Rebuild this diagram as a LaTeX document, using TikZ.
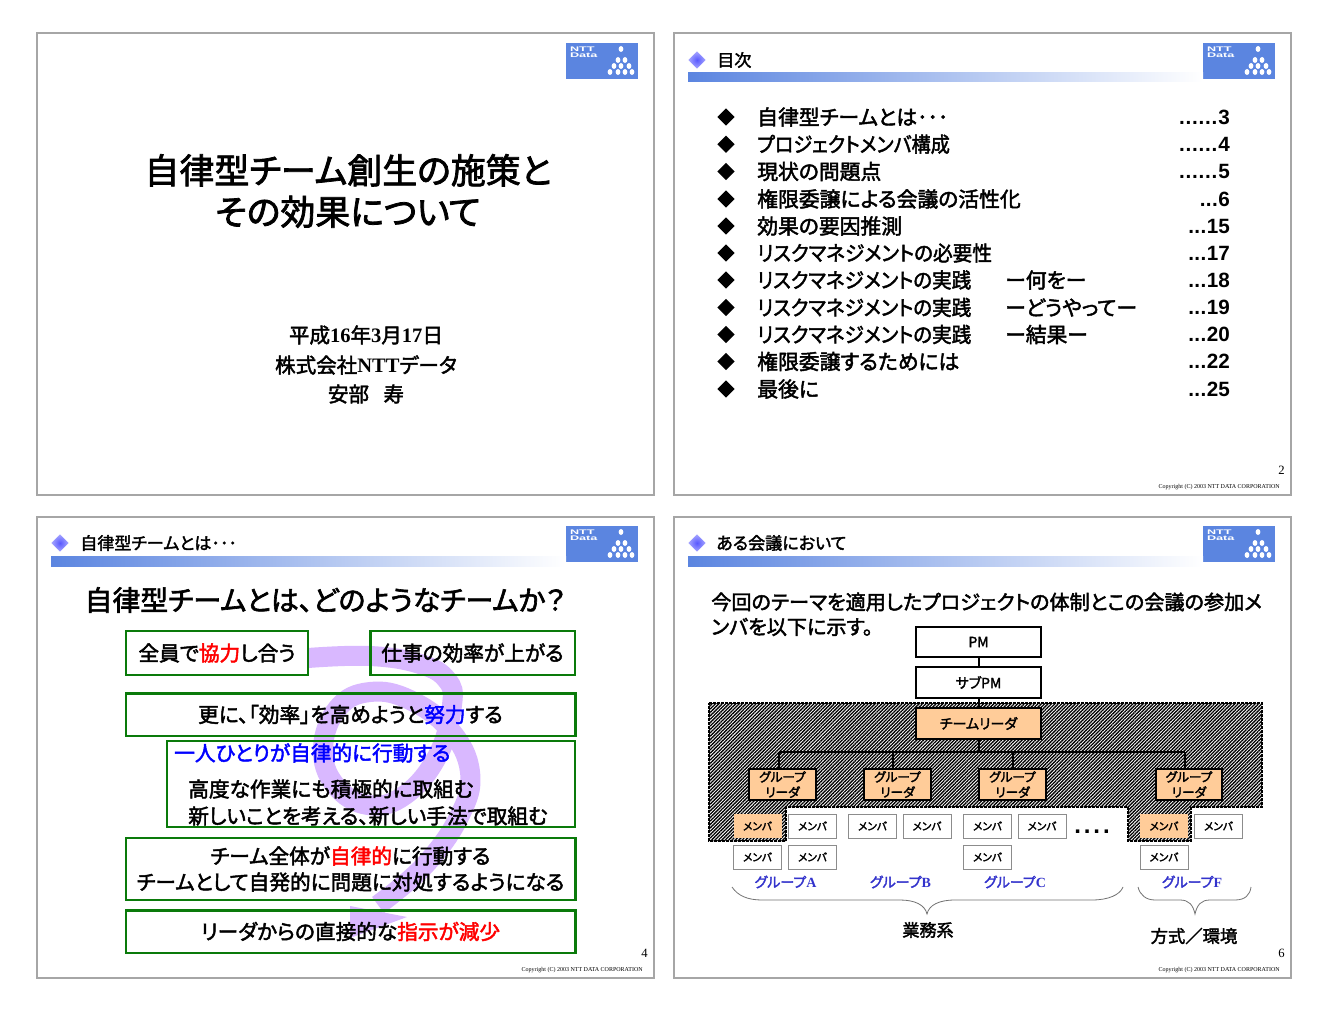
\documentclass[tikz,border=0pt]{standalone}
\usepackage{fontspec}
\setmainfont[RawFeature=+palt,FakeBold=2.2,BoldFont={Noto Sans CJK JP}]{Noto Sans CJK JP}
\newfontfamily\latf{Liberation Serif}
\newfontfamily\arif{Liberation Sans}
\usetikzlibrary{positioning,shapes.geometric,patterns.meta}
\definecolor{logoblue}{HTML}{5B85E0}
\definecolor{ribbon}{HTML}{D9B8FF}
\definecolor{boxgreen}{HTML}{0A7A0A}
\definecolor{leadorange}{HTML}{FFCC99}
\definecolor{grplabel}{HTML}{3333CC}
\newcommand{\fs}[1]{\fontsize{#1}{#1}\selectfont}
\newcommand{\rd}[1]{\textcolor{red}{#1}}
\newcommand{\bl}[1]{\textcolor{blue}{#1}}
\newcommand{\dlong}{.\kern.6pt.\kern.6pt.\kern.6pt.\kern.6pt.\kern.6pt.\kern.6pt}
\newcommand{\dshort}{.\kern.3pt.\kern.3pt.\kern.3pt}
\tikzset{
  slide/.style={draw=black!35,line width=1.1pt},
  headmark/.style={diamond,shade,inner color=blue!65,outer color=blue!35,minimum size=13pt,inner sep=0pt},
  headtext/.style={anchor=west,inner sep=0pt,font=\bfseries\fs{12.8}},
  tocmark/.style={diamond,fill=black,minimum size=13pt,inner sep=0pt},
  toctext/.style={anchor=west,inner sep=0pt,font=\bfseries\fs{15.6}},
  tocpage/.style={anchor=east,inner sep=0pt,font=\arif\bfseries\fs{15.5}},
  pagenum/.style={anchor=east,inner sep=0pt,font=\latf\fs{9.5}},
  copyrt/.style={anchor=east,inner sep=0pt,font=\latf\fs{4.5}},
  grbox/.style={draw=boxgreen,line width=2.2pt},
  grtext/.style={inner sep=0pt,font=\bfseries\fs{15.5}},
  orgbox/.style={draw,line width=1.5pt,minimum width=94pt,minimum height=23pt,inner sep=0pt,font=\bfseries\fs{10.5}},
  glbox/.style={draw,fill=leadorange,line width=1.5pt,minimum width=50pt,minimum height=23pt,inner sep=0pt,align=center,font=\bfseries\fontsize{9.5}{11.5}\selectfont},
  member/.style={draw=black!45,fill=white,line width=.7pt,minimum width=36pt,minimum height=18pt,inner sep=0pt,font=\bfseries\fs{8}},
  grplbl/.style={inner sep=0pt,text=grplabel,font=\bfseries\fs{10.5}},
  brace/.style={draw=black!55,line width=.6pt},
  conn/.style={line width=1.5pt},
  logo/.pic={
    \fill[logoblue] (0,0) rectangle (72,36);
    \node[white,inner sep=0pt,anchor=north west,font=\arif\bfseries\fontsize{5}{4.4}\selectfont,xscale=1.9,align=left] (-name) at (3.5,3.5) {NTT\\Data};
    \foreach \px/\py in {55/6,52/17,59/17,48/23,55/23,63/23,44/29,52/29,59/29,66/29}
      \fill[white] (\px,\py) ellipse (2.4 and 3);
  }
}
\begin{document}
\begin{tikzpicture}[x=.75pt,y=-.75pt]
\useasboundingbox (0,0) rectangle (1328,1012);
\fill[white] (0,0) rectangle (1328,1012);
% slide frames
\draw[slide] (37,33) rectangle (654,495);
\draw[slide] (674,33) rectangle (1291,495);
\draw[slide] (37,517) rectangle (654,978);
\draw[slide] (674,517) rectangle (1291,978);
\pic at (566,43) {logo};
\pic at (1203,43) {logo};
\pic at (566,526) {logo};
\pic at (1203,526) {logo};
% header bars
\shade[left color=logoblue,right color=white] (688,73) rectangle (1203,82);
\shade[left color=logoblue,right color=white] (51,556) rectangle (566,566);
\shade[left color=logoblue,right color=white] (688,556) rectangle (1203,566);
\node[headmark] (mark2) at (697,60) {};
\node[headmark] (mark3) at (60,543) {};
\node[headmark] (mark4) at (697,543) {};
\node[headtext] (head2) at (717,60) {目次};
\node[headtext] (head3) at (80,543) {自律型チームとは･･･};
\node[headtext] (head4) at (716,543) {ある会議において};
% slide 1
\node[align=center,inner sep=0pt,font=\bfseries\fontsize{26.2}{31}\selectfont] (title) at (348,191) {自律型チーム創生の施策と\\その効果について};
\node[inner sep=0pt,font=\bfseries\fs{15.4}] (date) at (366,335) {平成{\latf 16}年{\latf 3}月{\latf 17}日};
\node[inner sep=0pt,font=\bfseries\fs{15.4}] (company) at (366,365) {株式会社{\latf NTT}データ};
\node[inner sep=0pt,font=\bfseries\fs{15.4}] (person) at (366,394) {安部\hspace{.7em}寿};
% slide 2
\foreach \yy/\txt/\pg/\sx [count=\i] in {
  117/自律型チームとは･･･/\dlong 3/1,
  144.3/プロジェクトメンバ構成/\dlong 4/.92,
  171.5/現状の問題点/\dlong 5/1,
  199/権限委譲による会議の活性化/\dshort 6/1,
  226/効果の要因推測/\dshort 15/1,
  253/リスクマネジメントの必要性/\dshort 17/.945,
  280/リスクマネジメントの実践/\dshort 18/.94,
  307.5/リスクマネジメントの実践/\dshort 19/.94,
  334.5/リスクマネジメントの実践/\dshort 20/.94,
  361.5/権限委譲するためには/\dshort 22/1,
  389/最後に/\dshort 25/1}{
  \node[tocmark] (mark\i) at (726,\yy) {};
  \node[toctext,xscale=\sx] (item\i) at (757,\yy) {\txt};
  \node[tocpage] (page\i) at (1230,\yy) {\pg};
}
\node[toctext] (sub7) at (1005,280) {ー何をー};
\node[toctext] (sub8) at (1005,307.5) {ーどうやってー};
\node[toctext] (sub9) at (1005,334.5) {ー結果ー};
\node[pagenum] (num2) at (1285,470) {2};
\node[copyrt] (copy2) at (1280,487) {Copyright (C) 2003 NTT DATA CORPORATION};
% slide 3
\node[inner sep=0pt,font=\fs{20.9}] (q) at (325,600) {自律型チームとは、どのようなチームか？};
\draw[ribbon,line width=15pt] plot[smooth,tension=.7] coordinates {(308,658) (370,656) (420,664) (447,680) (452,705) (438,755) (405,795) (368,805) (335,785) (323,748) (338,708) (370,692) (410,700) (450,730) (470,772) (460,815) (425,865) (378,905)};
\fill[ribbon] (350,906) -- (407,917) -- (350,938) -- cycle;
\node[grbox,minimum width=136.5pt,minimum height=33pt,inner sep=0pt] (b1) at (217,653) {};
\node[grbox,minimum width=153.7pt,minimum height=33pt,inner sep=0pt] (b2) at (472.5,653) {};
\node[grbox,minimum width=336.8pt,minimum height=32.2pt,inner sep=0pt] (b3) at (350.5,714.5) {};
\node[grbox,minimum width=306pt,minimum height=64.5pt,inner sep=0pt] (b4) at (371,784) {};
\node[grbox,minimum width=336.8pt,minimum height=46.5pt,inner sep=0pt] (b5) at (350.5,869) {};
\node[grbox,minimum width=336.8pt,minimum height=32.2pt,inner sep=0pt] (b6) at (350.5,931.5) {};
\node[grtext] (t1) at (b1) {全員で\rd{協力}し合う};
\node[grtext] (t2) at (b2) {仕事の効率が上がる};
\node[grtext] (t3) at (b3) {更に、「効率」を高めようと\bl{努力}する};
\node[grtext,anchor=west] (t4a) at (174,753) {\bl{一人ひとりが自律的に行動する}};
\node[grtext,anchor=west] (t4b) at (188,789) {高度な作業にも積極的に取組む};
\node[grtext,anchor=west] (t4c) at (188,816) {新しいことを考える、新しい手法で取組む};
\node[grtext] (t5a) at (350.5,856) {チーム全体が\rd{自律的}に行動する};
\node[grtext] (t5b) at (350.5,882) {チームとして自発的に問題に対処するようになる};
\node[grtext] (t6) at (b6) {リーダからの直接的な\rd{指示が減少}};
\node[pagenum] (num3) at (648,953) {4};
\node[copyrt] (copy3) at (643,970) {Copyright (C) 2003 NTT DATA CORPORATION};
% slide 4
\node[anchor=west,inner sep=0pt,font=\bfseries\fs{15.1}] (intro1) at (711,602) {今回のテーマを適用したプロジェクトの体制とこの会議の参加メ};
\node[anchor=west,inner sep=0pt,font=\bfseries\fs{15.1}] (intro2) at (711,627) {ンバを以下に示す。};
\path[pattern={Lines[angle=45,distance=1.8pt,line width=1pt]},draw,line width=2.2pt,dash pattern=on 2pt off 1pt]
  (709,703) -- (1262,703) -- (1262,807) -- (1191,807) -- (1191,841) -- (1128,841) -- (1128,807)
  -- (786,807) -- (786,841) -- (709,841) -- cycle;
\node[orgbox] (pm) at (978.5,642) {PM};
\node[orgbox] (subpm) at (978.5,682.5) {サブPM};
\node[orgbox,fill=leadorange] (tl) at (978.5,723.5) {チームリーダ};
\node[glbox] (gla) at (782.5,784.5) {グループ\\リーダ};
\node[glbox] (glb) at (897.5,784.5) {グループ\\リーダ};
\node[glbox] (glc) at (1012.5,784.5) {グループ\\リーダ};
\node[glbox] (glf) at (1189,784.5) {グループ\\リーダ};
\coordinate (busa) at (779,752);
\coordinate (busb) at (893,752);
\coordinate (busc) at (1013,752);
\coordinate (busf) at (1185,752);
\draw[conn] (pm) -- (subpm);
\draw[conn] (subpm) -- (tl);
\draw[conn] (tl) -- (tl |- busa);
\draw[conn] (busa) -- (busf);
\draw[conn] (busa) -- (busa |- gla.north);
\draw[conn] (busb) -- (busb |- glb.north);
\draw[conn] (busc) -- (busc |- glc.north);
\draw[conn] (busf) -- (busf |- glf.north);
\foreach \nm/\xx/\yy in {a2/812.5/826,b1/872.5/826,b2/927/826,c1/987.5/826,c2/1042/826,f2/1218.5/826,a3/757.5/857,a4/812.5/857,c3/987.5/857,f3/1164/857}
  \node[member] (m\nm) at (\xx,\yy) {メンバ};
\node[member,fill=leadorange,draw=none] (ma1) at (757.5,826) {メンバ};
\node[member,fill=leadorange,draw=none] (mf1) at (1164,826) {メンバ};
\node[inner sep=0pt,font=\arif\bfseries\fs{18}] (more) at (1092,832) {.\hspace{2.2pt}.\hspace{2.2pt}.\hspace{2.2pt}.};
\node[grplbl] (grpa) at (785.5,882) {グループ{\latf A}};
\node[grplbl] (grpb) at (900.5,882) {グループ{\latf B}};
\node[grplbl] (grpc) at (1015,882) {グループ{\latf C}};
\node[grplbl] (grpf) at (1192,882) {グループ{\latf F}};
\draw[brace] (732,887) .. controls (738,896) and (748,900) .. (762,900) -- (900,900) .. controls (915,900) and (925,905) .. (927,914) .. controls (929,905) and (939,900) .. (955,900) -- (1092,900) .. controls (1108,900) and (1120,895) .. (1123,887);
\draw[brace] (1138,887) .. controls (1140,895) and (1146,900) .. (1155,900) -- (1180,900) .. controls (1189,900) and (1193,905) .. (1195,914) .. controls (1197,905) and (1201,900) .. (1210,900) -- (1235,900) .. controls (1245,900) and (1250,895) .. (1251,887);
\node[inner sep=0pt,font=\bfseries\fs{12.8}] (biz) at (928,930) {業務系};
\node[inner sep=0pt,font=\bfseries\fs{13}] (env) at (1194,936) {方式／環境};
\node[pagenum] (num4) at (1285,953) {6};
\node[copyrt] (copy4) at (1280,970) {Copyright (C) 2003 NTT DATA CORPORATION};
\end{tikzpicture}
\end{document}
